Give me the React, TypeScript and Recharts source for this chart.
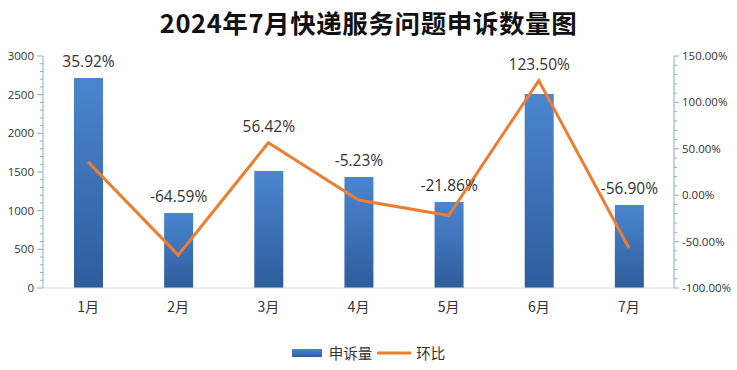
import React from 'react';
import { ComposedChart, Bar, Line, XAxis, YAxis, Legend, LabelList } from 'recharts';

const months = ['1月', '2月', '3月', '4月', '5月', '6月', '7月'];
const complaints = [2715, 970, 1513, 1435, 1112, 2509, 1073];
const momRates = [35.92, -64.59, 56.42, -5.23, -21.86, 123.5, -56.9];
const leftTicks = [0, 100, 200, 300, 400, 500, 600, 700, 800, 900, 1000, 1100, 1200, 1300, 1400, 1500, 1600, 1700, 1800, 1900, 2000, 2100, 2200, 2300, 2400, 2500, 2600, 2700, 2800, 2900, 3000];
const rightTicks = [-100, -90, -80, -70, -60, -50, -40, -30, -20, -10, 0, 10, 20, 30, 40, 50, 60, 70, 80, 90, 100, 110, 120, 130, 140, 150];
const LEFT_DOMAIN: [number, number] = [0, 3000];
const RIGHT_DOMAIN: [number, number] = [-100, 150];

const data = months.map((m, i) => ({ month: m, count: complaints[i], rate: momRates[i] }));

const AXIS_COLOR = '#8EAAD0';
const TEXT_COLOR = '#333333';
const NUM_FONT = '"Open Sans", "Noto Sans CJK SC", sans-serif';
const CJK_FONT = '"Noto Sans CJK SC", sans-serif';

const LeftTick = (props: any) => {
  const { x, y, payload } = props;
  const major = payload.value % 500 === 0;
  return (
    <g>
      <line x1={x} x2={x - (major ? 6 : 3)} y1={y} y2={y} stroke={AXIS_COLOR} strokeWidth={1} />
      {major && (
        <text x={x - 9} y={y + 4} textAnchor="end" fontSize={11.5} fill={TEXT_COLOR} fontFamily={NUM_FONT}>
          {payload.value}
        </text>
      )}
    </g>
  );
};

const RightTick = (props: any) => {
  const { x, y, payload } = props;
  const major = payload.value % 50 === 0;
  return (
    <g>
      <line x1={x} x2={x + (major ? 5 : 3)} y1={y} y2={y} stroke={AXIS_COLOR} strokeWidth={1} />
      {major && (
        <text x={x + 8} y={y + 4} textAnchor="start" fontSize={11.5} fill={TEXT_COLOR} fontFamily={NUM_FONT}>
          {payload.value.toFixed(2) + '%'}
        </text>
      )}
    </g>
  );
};

const XTick = (props: any) => {
  const { x, y, payload } = props;
  return (
    <text x={x} y={y + 16} textAnchor="middle" fontSize={14} fill={TEXT_COLOR} fontFamily={CJK_FONT}>
      {payload.value}
    </text>
  );
};

const RateLabel = (props: any) => {
  const vb = props.viewBox || {};
  const x = props.x ?? vb.x;
  const y = props.y ?? vb.y;
  const width = props.width ?? vb.width;
  const height = props.height ?? vb.height;
  const index = props.index;
  const d = data[index];
  if (!d || x == null) return null;
  const bottom = y + height;
  const pxPerUnit = height / d.count;
  const plotH = (LEFT_DOMAIN[1] - LEFT_DOMAIN[0]) * pxPerUnit;
  const lineY = bottom - ((d.rate - RIGHT_DOMAIN[0]) / (RIGHT_DOMAIN[1] - RIGHT_DOMAIN[0])) * plotH;
  const center = Math.min(y, lineY) - 16;
  return (
    <text x={x + width / 2} y={center + 5} textAnchor="middle" fontSize={15.5} fill={TEXT_COLOR} fontFamily={NUM_FONT}>
      {d.rate.toFixed(2) + '%'}
    </text>
  );
};

const LegendContent = () => (
  <div style={{ display: 'flex', justifyContent: 'center', alignItems: 'center', fontFamily: CJK_FONT, fontSize: 14.5, color: TEXT_COLOR }}>
    <svg width={30} height={10} style={{ marginRight: 7 }}>
      <defs>
        <linearGradient id="legGrad" x1="0" y1="0" x2="0" y2="1">
          <stop offset="0%" stopColor="#4A86D0" />
          <stop offset="100%" stopColor="#2E5C9C" />
        </linearGradient>
      </defs>
      <rect x={0} y={1} width={30} height={8} fill="url(#legGrad)" />
    </svg>
    <span style={{ marginRight: 5 }}>申诉量</span>
    <svg width={34} height={10} style={{ marginRight: 5 }}>
      <line x1={0} x2={34} y1={5} y2={5} stroke="#ED7D31" strokeWidth={3} />
    </svg>
    <span>环比</span>
  </div>
);

export default function App() {
  return (
    <div style={{ position: 'absolute', left: 0, top: 0, width: 737, height: 370, background: '#fff' }}>
      <div
        style={{
          position: 'absolute',
          left: 0,
          top: 3,
          width: 737,
          textAlign: 'center',
          fontFamily: '"Noto Sans CJK SC", sans-serif',
          fontWeight: 'bold',
          fontSize: 25.5,
          color: '#111',
          letterSpacing: 0.6,
        }}
      >
        2024年7月快递服务问题申诉数量图
      </div>
      <ComposedChart width={737} height={370} data={data} margin={{ top: 56, right: 0, bottom: 52, left: 0 }}>
        <defs>
          <linearGradient id="barGrad" x1="0" y1="0" x2="0" y2="1">
            <stop offset="0%" stopColor="#4A86D0" />
            <stop offset="100%" stopColor="#2E5C9C" />
          </linearGradient>
        </defs>
        <XAxis
          dataKey="month"
          axisLine={{ stroke: '#D9D9D9' }}
          tickLine={false}
          tick={<XTick />}
          height={30}
          interval={0}
        />
        <YAxis
          yAxisId="left"
          orientation="left"
          domain={LEFT_DOMAIN}
          ticks={leftTicks}
          interval={0}
          width={43}
          axisLine={{ stroke: AXIS_COLOR }}
          tickLine={false}
          tickSize={0}
          tickMargin={0}
          tick={<LeftTick />}
        />
        <YAxis
          yAxisId="right"
          orientation="right"
          domain={RIGHT_DOMAIN}
          ticks={rightTicks}
          interval={0}
          width={63}
          axisLine={{ stroke: AXIS_COLOR }}
          tickLine={false}
          tickSize={0}
          tickMargin={0}
          tick={<RightTick />}
        />
        <Bar yAxisId="left" dataKey="count" name="申诉量" fill="url(#barGrad)" barSize={29} isAnimationActive={false}>
          <LabelList dataKey="count" content={<RateLabel />} />
        </Bar>
        <Line
          yAxisId="right"
          dataKey="rate"
          name="环比"
          stroke="#ED7D31"
          strokeWidth={3}
          dot={false}
          type="linear"
          isAnimationActive={false}
        />
        <Legend
          layout="horizontal"
          verticalAlign="middle"
          align="center"
          wrapperStyle={{ top: 342, left: 0, width: 737 }}
          content={<LegendContent />}
        />
      </ComposedChart>
    </div>
  );
}
